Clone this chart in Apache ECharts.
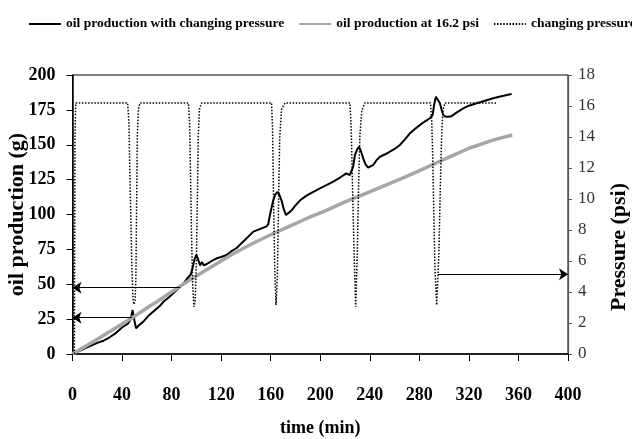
<!DOCTYPE html>
<html>
<head>
<meta charset="utf-8">
<title>oil production</title>
<script src="https://cdn.jsdelivr.net/npm/echarts@6/dist/echarts.min.js"></script>
<style>
	html, body { margin: 0; padding: 0; background: #fff; }
	#chart { width: 632px; height: 439px; }
</style>
</head>
<body>
<div id="chart"></div>
<script>
	// oil production with changing pressure, [time (min), g]
	var changingOil = [
		[0,0],[10,4],[20,8],[25,9.5],[30,12],[35,15],[40,19],[45,22],[47,25],[48.5,31.5],[50,24],[51.3,18.4],
		[54,21],[57,23],[62,28],[66,31],[70,34],[74,38],[77,40],[82,44],[86,47.5],[90,51],[93,54.5],[95.5,57],
		[97,62],[98.5,68],[100,71],[101.5,67.5],[103,63.5],[104.5,66],[106,63.5],[108.3,64.5],[112,66.5],
		[116.4,68.6],[120,69.5],[124.4,71],[128,73.5],[132.5,76],[136,79],[140.6,83],[146,87.7],[151,89.5],
		[156.7,91.5],[158,93],[159.4,99.6],[162,110],[163.5,114],[165.6,116.3],[167,114],[168.8,110],
		[170.5,104],[172.3,99.6],[175,101.5],[176.9,103],[180,106.5],[183.6,110],[188,113],[191.7,115],
		[196,117],[199.7,118.7],[205,121],[210.5,123.5],[216,126.5],[221,129.5],[222.6,130.2],[223.8,128.3],
		[225.3,128.3],[226.5,134],[228,142.7],[230,147],[231.2,148.6],[233,145],[234.7,140.3],[236.5,136],
		[238.7,133.6],[242.8,135.5],[245.5,139],[248.2,141.4],[252,143],[256.3,145],[260,147],[264.3,149.8],
		[268,153.5],[272.4,158.2],[276,161],[280.5,164.2],[285,167],[288.5,169],[290.7,171.3],[292,179],
		[293.4,184.4],[295,183],[296.6,179.7],[298,175],[299.3,171.3],[301,170.2],[303.3,170.1],[306,170.5],
		[310,173],[315.4,176.1],[320,178],[326.2,179.7],[333,181.5],[339.6,183.3],[347,185],[354.5,186.4]
	];

	// oil production at 16.2 psi, [time (min), g]
	var constantOil = [
		[0,0],[20,10.5],[40,21.5],[50,27],[60,33],[70,38.5],[85,47.5],[100,56],[115,64],[130,72],[145,79],
		[160,85.5],[175,91.5],[190,97.5],[205,103],[220,109],[235,114.5],[250,120],[265,125.5],[278,130.5],
		[290,135.5],[305,141.5],[320,147.5],[340,153.5],[355,157]
	];

	// changing pressure, [time (min), psi]
	var pressure = [
		[1.5,0],[2,14],[2.6,16.2],
		[44.5,16.2],[45.5,15],[46.5,11],[47.8,6],[48.8,3.6],[49.6,3.2],[50.5,3.4],[51.2,5],[51.8,10],[52.3,14],[53.2,15.8],[54.5,16.2],
		[93.5,16.2],[94.5,15],[95.2,12],[96,8],[97,4.5],[98,3.05],[99,3.4],[100,6],[100.8,10],[101.5,14],[102.5,15.8],[104.3,16.2],
		[160.7,16.2],[161.5,14.5],[162.3,10],[163.3,5.5],[164.3,3.16],[165.4,5],[166.4,10],[167.3,14],[168.8,15.8],[171.5,16.2],
		[224,16.2],[225,14.5],[226,11],[227.3,6.6],[228.6,3.05],[229.9,6.6],[231,11],[232,14.1],[233.5,15.7],[236,16.2],
		[289,16.2],[290,15],[290.7,13],[292.6,5.5],[294,3.16],[295.8,6.6],[297,11],[298,14.1],[299,15.7],[300.6,16.2],
		[342.6,16.2]
	];

	// arrows to the axes, [from, to] in data units
	var oilArrows = [
		[[87,47.5],[0,47.5]],
		[[47.8,26],[0,26]]
	];
	var pressureArrows = [
		[[295,5.14],[400,5.14]]
	];

	var timeTicks = { min: 0, max: 400, interval: 40 };
	var oilTicks = { min: 0, max: 200, interval: 25 };
	var psiTicks = { min: 0, max: 18, interval: 2 };

	var seriesNames = ['oil production with changing pressure', 'oil production at 16.2 psi', 'changing pressure'];

	var serif = '"Liberation Serif", "Times New Roman", serif';

	var toLines = function(list){
		return list.map(function(a){ return { coords: a }; });
	};

	var myChart = echarts.init(document.getElementById('chart'), null, { renderer: 'canvas' });

	var option = {
		animation: false,
		backgroundColor: '#fff',
		textStyle: { fontFamily: serif },
		legend: {
			data: seriesNames,
			left: 23,
			top: 12,
			width: 900,
			itemWidth: 32,
			itemHeight: 14,
			itemGap: 14,
			// no marker on the legend lines
			itemStyle: { opacity: 0 },
			textStyle: { fontFamily: serif, fontWeight: 'bold', fontSize: 13.5, color: '#000' }
		},
		grid: {
			left: 72.5,
			right: 64,
			top: 75,
			bottom: 85,
			outerBoundsMode: 'none',
			containLabel: false,
			show: true,
			borderColor: '#000',
			borderWidth: 1,
			backgroundColor: 'transparent'
		},
		xAxis: {
			type: 'value',
			min: timeTicks.min,
			max: timeTicks.max,
			interval: timeTicks.interval,
			name: 'time (min)',
			nameLocation: 'middle',
			nameGap: 65,
			nameMoveOverlap: false,
			nameTextStyle: { fontFamily: serif, fontWeight: 'bold', fontSize: 18, color: '#000' },
			axisLine: { lineStyle: { color: '#000', width: 1.5 } },
			axisTick: { show: true, inside: false, length: 7, lineStyle: { color: '#000' } },
			axisLabel: { margin: 32, fontFamily: serif, fontWeight: 'bold', fontSize: 18, color: '#000' },
			splitLine: { show: false }
		},
		yAxis: [
			{
				type: 'value',
				position: 'left',
				min: oilTicks.min,
				max: oilTicks.max,
				interval: oilTicks.interval,
				name: 'oil production (g)',
				nameLocation: 'middle',
				nameGap: 44,
				nameMoveOverlap: false,
				nameTextStyle: { fontFamily: serif, fontWeight: 'bold', fontSize: 22, color: '#000' },
				axisLine: { show: true, lineStyle: { color: '#000', width: 1.5 } },
				axisTick: { show: true, inside: false, length: 6, lineStyle: { color: '#000' } },
				axisLabel: { margin: 17, fontFamily: serif, fontWeight: 'bold', fontSize: 18, color: '#000' },
				splitLine: { show: false }
			},
			{
				type: 'value',
				position: 'right',
				min: psiTicks.min,
				max: psiTicks.max,
				interval: psiTicks.interval,
				axisLine: { show: true, lineStyle: { color: '#555', width: 1.2 } },
				axisTick: { show: true, inside: false, length: 4, lineStyle: { color: '#555' } },
				axisLabel: { margin: 10, fontFamily: serif, fontSize: 17, color: '#333' },
				splitLine: { show: false }
			}
		],
		graphic: [
			{
				type: 'text',
				x: 619,
				y: 247,
				rotation: Math.PI / 2,
				style: {
					text: 'Pressure (psi)',
					font: 'bold 22px ' + serif,
					fill: '#000',
					textAlign: 'center',
					textVerticalAlign: 'middle'
				}
			}
		],
		series: [
			{
				name: seriesNames[0],
				type: 'line',
				data: changingOil,
				yAxisIndex: 0,
				showSymbol: false,
				symbol: 'none',
				lineStyle: { color: '#000', width: 2 },
				itemStyle: { color: '#000' },
				z: 2
			},
			{
				name: seriesNames[1],
				type: 'line',
				data: constantOil,
				yAxisIndex: 0,
				showSymbol: false,
				symbol: 'none',
				lineStyle: { color: '#a6a6a6', width: 3.5 },
				itemStyle: { color: '#a6a6a6' },
				z: 3
			},
			{
				name: seriesNames[2],
				type: 'line',
				data: pressure,
				yAxisIndex: 1,
				showSymbol: false,
				symbol: 'none',
				lineStyle: { color: '#000', width: 1.5, type: [1.5, 1.6] },
				itemStyle: { color: '#000' },
				z: 4
			},
			{
				name: 'oil arrows',
				type: 'lines',
				coordinateSystem: 'cartesian2d',
				yAxisIndex: 0,
				symbol: ['none', 'arrow'],
				symbolSize: 9,
				lineStyle: { color: '#000', width: 1, opacity: 1 },
				data: toLines(oilArrows),
				z: 5
			},
			{
				name: 'pressure arrows',
				type: 'lines',
				coordinateSystem: 'cartesian2d',
				yAxisIndex: 1,
				symbol: ['none', 'arrow'],
				symbolSize: 9,
				lineStyle: { color: '#000', width: 1, opacity: 1 },
				data: toLines(pressureArrows),
				z: 5
			}
		]
	};
	myChart.setOption(option);
</script>
</body>
</html>
